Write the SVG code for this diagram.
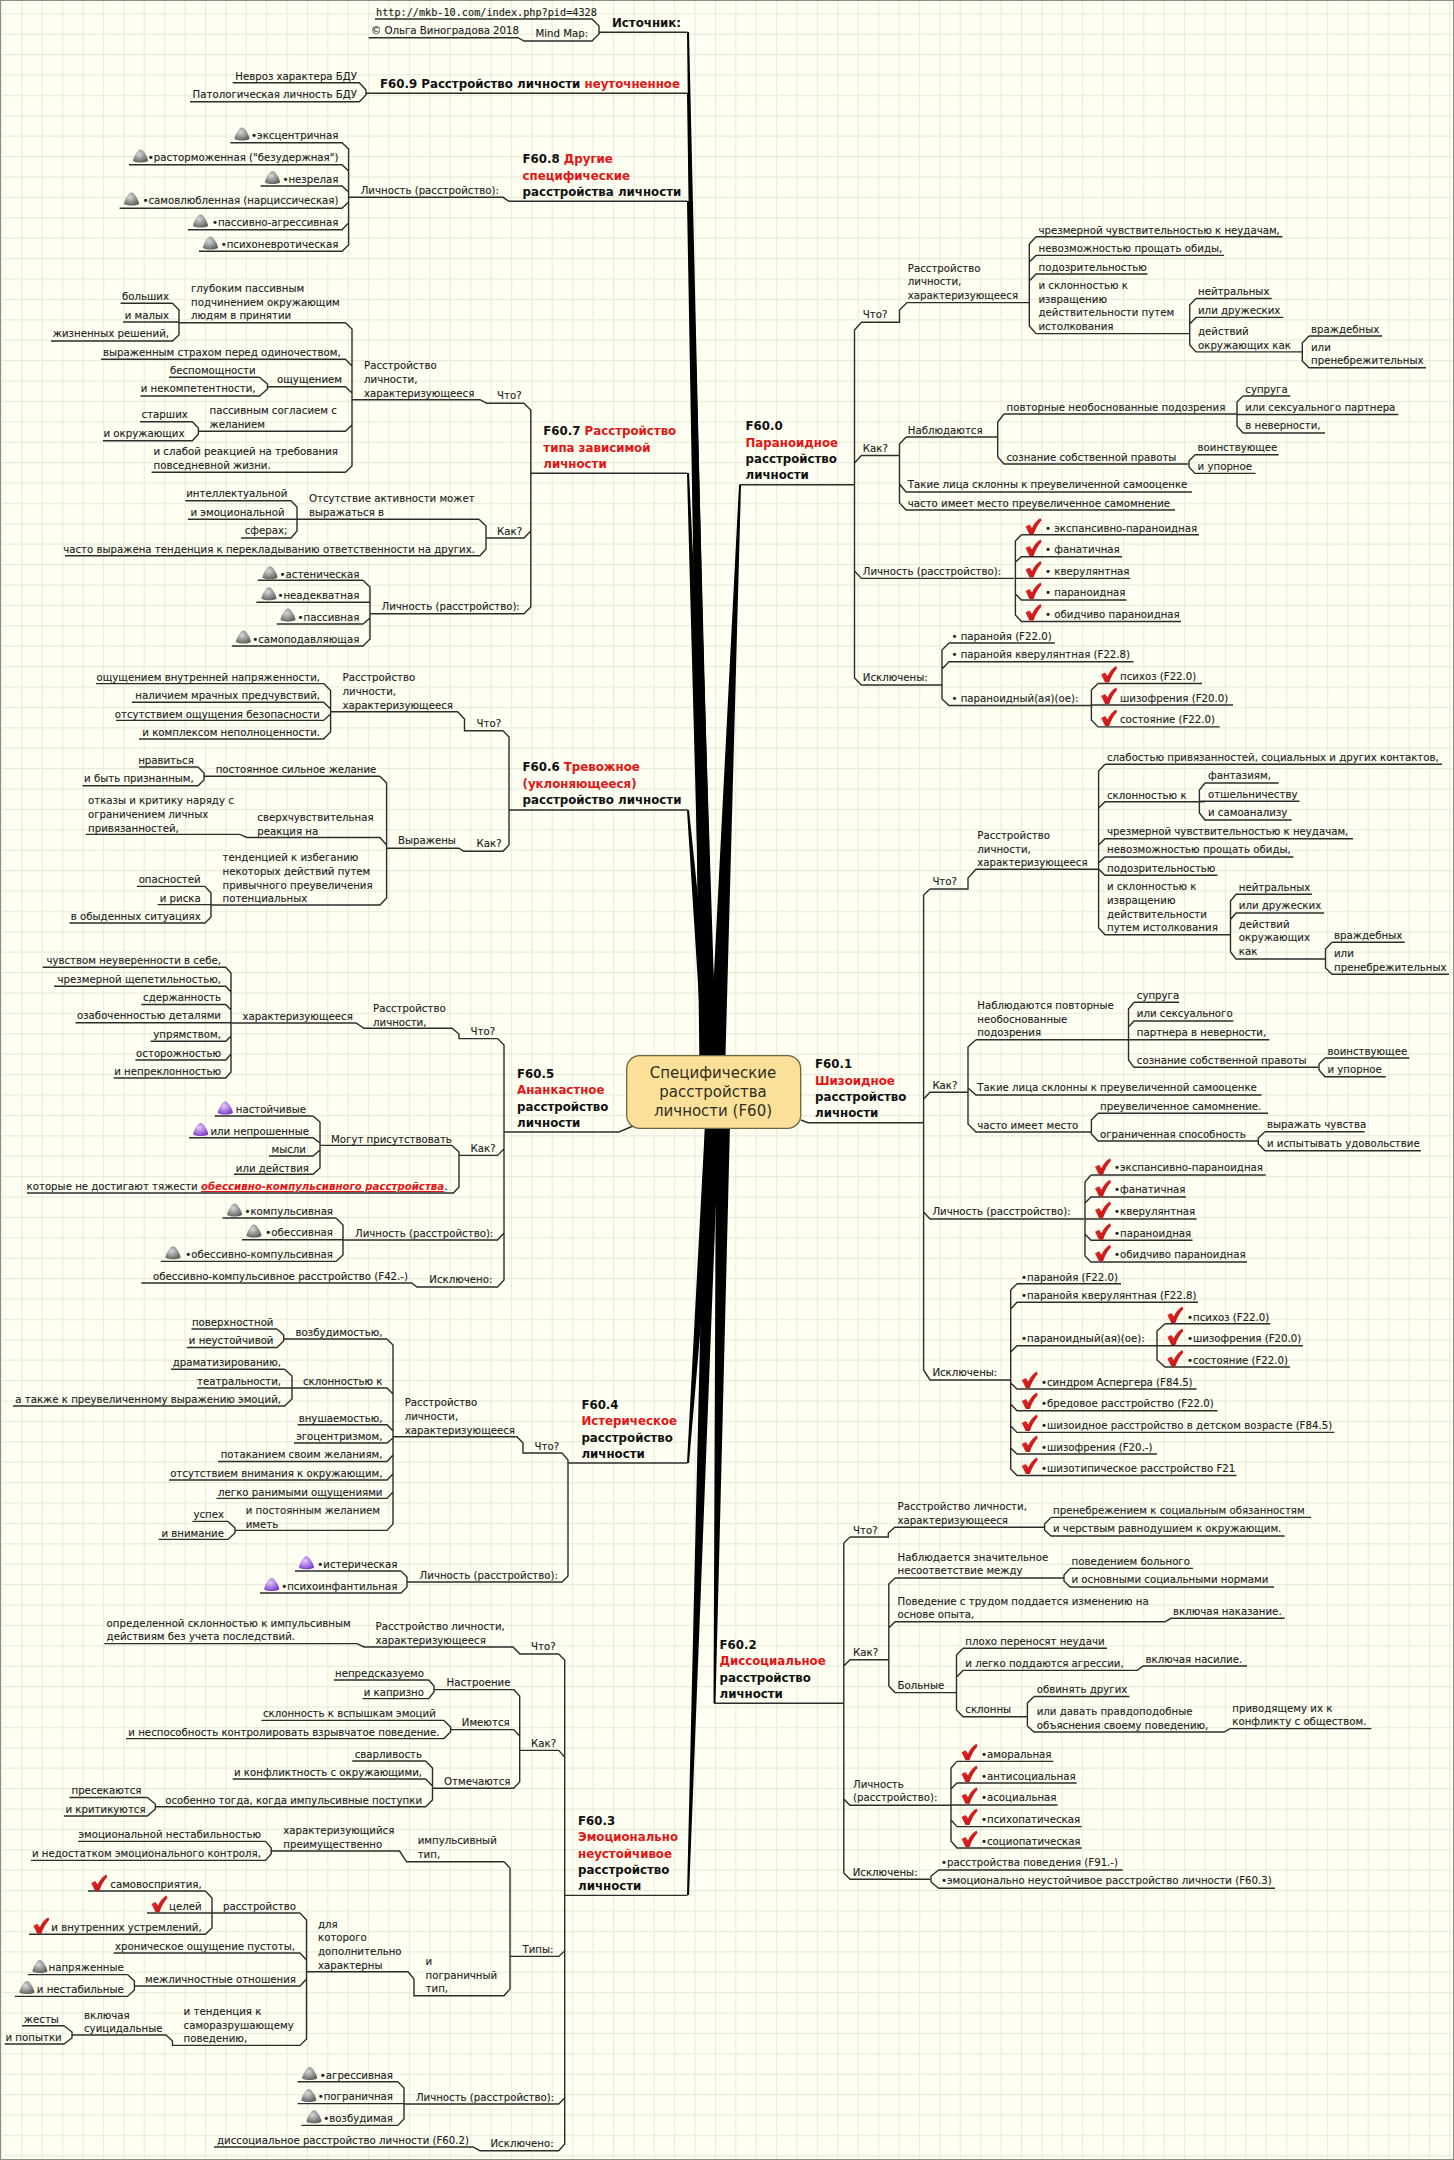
<svg xmlns="http://www.w3.org/2000/svg" width="1454" height="2160" viewBox="0 0 1454 2160">
<style>
text{font-family:"DejaVu Sans",sans-serif;font-size:10.2px;fill:#1c1c1c;stroke:#1c1c1c;stroke-width:.12}
.e{text-anchor:end}
.t{font-weight:bold;font-size:11.8px;fill:#111;stroke:none}
.r{fill:#e41414;stroke:none}
.c{font-size:15px;text-anchor:middle;fill:#2e2e22;stroke:none}
.m{font-family:"DejaVu Sans Mono",monospace}
.i{font-weight:bold;font-style:italic;text-decoration:underline}
#connectors path{fill:none;stroke:#2c2c2c;stroke-width:1.4}
#connectors polygon{fill:#000;stroke:none}
</style>
<defs>
<pattern id="grid" x="0.9" y="13.2" width="20.4" height="20.4" patternUnits="userSpaceOnUse"><rect width="20.4" height="20.4" fill="#fffff2"/><path d="M0,0H20.4M0,0V20.4" stroke="#e8ebdd" stroke-width="2.2" fill="none"/></pattern>
<radialGradient id="gg" cx=".4" cy=".35" r=".75"><stop offset="0" stop-color="#d8d8d8"/><stop offset="1" stop-color="#555"/></radialGradient>
<radialGradient id="gp" cx=".4" cy=".35" r=".75"><stop offset="0" stop-color="#e6c8ff"/><stop offset="1" stop-color="#7430c4"/></radialGradient>
<linearGradient id="gr" x1="0" y1="0" x2="1" y2="1"><stop offset="0" stop-color="#f03030"/><stop offset="1" stop-color="#b80c0c"/></linearGradient>
<path id="cone" d="M-7.5,5C-7.5,1.5-3,-6.5 0,-6.5C3,-6.5 7.5,1.5 7.5,5C3,7-3,7-7.5,5Z" fill="url(#gg)"/>
<path id="pur" d="M-7.5,5C-7.5,1.5-3,-6.5 0,-6.5C3,-6.5 7.5,1.5 7.5,5C3,7-3,7-7.5,5Z" fill="url(#gp)"/>
<path id="chk" d="M-7.5,0L-3.5,-2L-1,1.5C1,-3 4,-6.5 7.5,-8.5L8.5,-6C5,-2.5 2.5,2.5 0.5,8L-3.5,8Z" fill="url(#gr)"/>
</defs>
<rect width="1454" height="2160" fill="url(#grid)"/>
<rect x=".5" y=".5" width="1453" height="2159" fill="none" stroke="#8c8c8c"/>
<g id="connectors">
<polygon points="687,32 689,32 714,1110 700,1110"/>
<polygon points="687,93 689,93 716,1110 702,1110"/>
<polygon points="687,201 689,201 718,1110 703,1110"/>
<polygon points="687,473 689,473 720,1110 704,1110"/>
<polygon points="687,810 689,810 720,1110 706,1110"/>
<polygon points="687,1463 689,1463 718,1125 705,1125"/>
<polygon points="687,1895 689,1895 719,1125 705,1125"/>
<polygon points="739,485 741,485 724,1110 707,1110"/>
<polygon points="713.5,1703 715.5,1703 730,1125 716,1125"/>
<path d="M375,19H592L599,26V34L592,41H533M368.5,37.7H518L524,41H533M599,32.3H687.5"/>
<path d="M232.7,82.7H359.3L366,90V95L359.3,101.7H190M366,93.3H687.5"/>
<path d="M509,201.3H687.5M509,201.3L503,197.3H348.6M230.4,142.7H342L348.6,149V245L342,251.3H199M129,164.7H342L348.6,171M260.5,186H342L348.6,192M119.6,208.3H342L348.6,202M187.8,229.7H342L348.6,223"/>
<path d="M530.8,473.3H687.5M524,403.3L530.8,410V607L524,613.7H370M524,403.3H486.8L480,399.7H352.3M345.4,322.7L352,329V466L345.4,472.3H151.6M345.4,322.7H178.5M172.5,303.3L179,310V335L172.5,341H51M172.5,303.3H120.5M179,322H123M101,359.3H345.4L352,366M352,393L345.4,386.7H267.5M259.6,377.3L267.5,384V389L259.6,396H140.5M259.6,377.3H169M352,425L345.4,431.3H198.4M192.4,421.7L198.4,428V434L192.4,440.7H103M192.4,421.7H140"/>
<path d="M530.8,531L524,538H486M479,519.3L486,526V549L480,555.8H65M479,519.3H296.7M291,500.7L297,507V531L291,538H241M291,500.7H185.4M297,519.3H187.8M363,580.3L370,587V639L363,646H231.8M363,580.3H257.8M370,602.3H256.4M370,618L363,624H276.8"/>
<path d="M509,810H687.5M503,730.7L509,737V845L503,851.3H463.6L459,848.2H386.6M503,730.7H464.5V719L457.6,711.8H330.6M323.6,683.6L330.6,690.5V732L323.6,739H139M323.6,683.6H96M132,702.2H323.6L330.6,709M116,720.4H323.6L330.6,714M380,776.2L386.6,783V898L380,905H211M380,776.2H204M198,767L204,773V780L198,785.8H82.5M198,767H139M386.6,845L380,837.5H247L239.7,834.4H85.8M205,886.4L211,893V917L205,923H69.5M205,886.4H136.8M211,904.6H157.6"/>
<path d="M504,1132H619L633,1126M497.5,1038.6L504,1045V1280L497.5,1287H417L411.7,1283H141.4M497.5,1038.6H459V1034L452,1028.3H364L356,1023H231M225.8,967.3L231,973V1072L225.8,1078H113.6M225.8,967.3H42.6M54,986.2H225.8L231,992M141.4,1004.5H225.8L231,1010M75.6,1022.8H231M150.7,1041.3H225.8L231,1036M135.4,1060H225.8L231,1054M504,1149L497.5,1155.4H459M452,1145.4L459,1152V1187L453.4,1193H27M452,1145.4H320M313,1116L320,1122V1168L313,1174.3H234M313,1116H214.6M189,1137.8H313L320,1143M269,1156H313L320,1150M504,1233L497.5,1240H343M336,1218L343,1225V1255L336,1261.4H161M336,1218H222.5M343,1239.8H242"/>
<path d="M568,1463H687.5M562,1453L568,1460V1576L562,1582H407M562,1453H523V1443L517,1436.7H393M387,1339L393,1345V1524L387,1530.4H235M387,1339H283.7M277,1329L283.7,1335V1341L277,1347.5H186.8M277,1329H191.5M393,1394L387,1388H292M284.6,1369.2L292,1376V1399L284.6,1406H13M284.6,1369.2H171M292,1388H197M393,1431L387,1424.7H297.6M393,1438L387,1443H294M393,1455L387,1461.5H218M393,1474L387,1480H169M393,1492L387,1498.4H216.5M228,1521.4L235,1528V1533L228,1539.4H158.6M228,1521.4H192.4M401,1571L407,1577V1587L401,1593H260M401,1571H295"/>
<path d="M564.7,1895.4H687.5M558.7,1654L564.7,1660V2144L558.7,2150.7H480L473,2147H214M104.3,1643.6H357L364,1647H513L520,1654H558.7M564.7,1757L558.7,1750.4H519.7M513.7,1689.6L519.7,1696V1782L513.7,1788.2H432.5M513.7,1689.6H434M428.8,1680L434,1686V1692L428.8,1698.6H362.5M428.8,1680H333.8M519.7,1736L513.7,1729.6H450.6M444,1720.4L450.6,1727V1732L444,1738.6H126M444,1720.4H261.5M425.6,1761L432.5,1768V1800L425.6,1806.8H155.3M425.6,1761H352.3M432.5,1786L425.6,1779H232.7M147.4,1797.5L155.3,1804V1809L147.4,1816H64M147.4,1797.5H69.5M564.7,1951L558.7,1956.4H510M504,1861.8L510,1868V1989L504,1995.7H414V1979L408,1971.8H306.5M504,1861.8H406.6L399.6,1851H271.2M265.6,1841.4L271.2,1848V1854L265.6,1860.4H31M265.6,1841.4H77.9M300,1913L306.5,1920V2039L300,2045.4H172.5V2041L166,2035H72M300,1913H212M205.4,1891L212,1898V1928L205.4,1934.3H29M205.4,1891H88M212,1913H147M306.5,1960L300,1953H113.6M306.5,1979L300,1986H134.4M127.5,1974.6L134.4,1981V1990L127.5,1996.4H14.8M127.5,1974.6H27.8M64,2025.7L72,2032V2038L64,2044H4.6M64,2025.7H22M564.7,2098L558.7,2104H404M397.8,2081.8L404,2088V2119L397.8,2125.4H301.4M397.8,2081.8H297.6M404,2103.6H297.6"/>
<path d="M739.5,484.8H854.5M861.4,322.2L854.5,330V678L861.4,685H941.7M861.4,322.2H899.5V310L907,302.6H1029.3M1036,236.8H1282.4M1036,236.8L1029.3,244V326L1036,333.6H1189M1029.3,262L1036,255.4H1224M1029.3,281L1036,274H1147.5M1196,298.5H1271.7M1196,298.5L1189.7,305V345L1196,351.9H1302M1189.7,324L1196,317.4H1283.3M1309,336H1382M1309,336L1302.3,343V361L1309,367.7H1426M854.5,463L861.4,455.5H899.5M906,437L899.5,444V503L906,510H1175M899.5,484L906,492H1192M906,437H997.7M1004,414L997.7,422V457L1004,464H1188M1004,414H1237M1243,396L1237,402V426L1243,433H1325M1237,414.5H1398.3M1243,396H1290.3M1195,454.8L1189,461V467L1195,473.4H1255.5M1195,454.8H1278.7M854.5,571L861.4,578.4H1014.4M1021.4,534.7L1015.4,541V615L1021.4,621.5H1181M1021.4,534.7H1199M1015.4,562L1021.4,556.7H1122M1015.4,578.4H1130.3M1015.4,594L1021.4,600H1126.6M949,643L942,650V699L949,705.5H1091M942,669L949,661.8H1133.6M949,643H1054.8M1098,683.5L1091.4,690V720L1098,726.9H1219.8M1098,683.5H1202M1091.4,705H1233"/>
<path d="M800.7,1120L808,1122.7H923.6M930,889L923.6,895V1370L930,1380H1010M930,889H968V878L976,869.3H1098.6M1105,764.3L1098.6,771V928L1105,934.7H1230.5M1105,764.3H1442M1098.6,808L1105,801.7H1204.5M1098.6,845L1105,838.7H1353M1098.6,863L1105,857H1293.5M1098.6,869L1105,875.3H1217.5M1205,783L1199.4,790V813L1205,820H1291.7M1205,783H1278.7M1199.4,801.3H1299.5M1236,894.3L1230.5,901V952L1236,959H1325.5M1236,894.3H1312M1230.5,919.5L1236,913H1324M1332,942.3L1325.5,949V968L1332,974.3H1449M1332,942.3H1404.8M923.6,1099L930,1092.3H968M976,1039.7L968,1047V1124L976,1132H1091M968,1088L976,1095H1261.5M976,1039.7H1269.4M1134,1002.3L1128.5,1009V1060L1134,1067.3H1318M1134,1002.3H1179M1128.5,1027L1134,1021H1233.3M1325,1058L1319,1064V1070L1325,1076.7H1385.8M1325,1058H1409.4M1098,1113.3L1091.4,1120V1134L1098,1141H1257.8M1098,1113.3H1268M1265,1131.7L1258.3,1138V1144L1265,1150.7H1421M1265,1131.7H1364.5M923.6,1212L930,1219H1084M1091,1175L1085,1182V1256L1091,1262H1247M1091,1175H1265.7M1085,1203L1091,1197H1186M1085,1219H1196.6M1085,1234L1091,1240.3H1192.5M1017,1283.7L1010.7,1290V1469L1017,1475.5H1236.5M1017,1283.7H1121M1010.7,1309L1017,1302.3H1198M1010.7,1352L1017,1345.8H1157M1165,1323.7L1157,1331V1360L1165,1367H1290M1165,1323.7H1270.3M1157,1345.8H1303M1010.7,1383L1017,1389H1196.6M1010.7,1404L1017,1410.7H1217.5M1010.7,1426L1017,1432.4H1334.3M1010.7,1448L1017,1454H1157"/>
<path d="M714,1703.3H843.8M850,1537L843.8,1543V1873L850,1879.3H930M850,1537H888.3V1533L894.8,1527.3H1044.6M1051,1517.4L1044.6,1524V1530L1051,1536H1284.7M1051,1517.4H1311M843.8,1666L850,1659.8H888.8M895,1578L888.8,1584V1686L895,1692.6H956.5M895,1578H1064M1070,1568.4L1064,1575V1581L1070,1587H1274M1070,1568.4H1193M888.8,1628L895,1621.8H1165L1171,1618.3H1284.7M963,1648.3L956.5,1655V1710L963,1716.7H1027.4M963,1648.3H1107M956.5,1677L963,1670.4H1137.3L1143,1666H1247M1034,1696.5L1027.4,1703V1726L1034,1732H1224L1230,1728.6H1371.4M1034,1696.5H1129.4M843.8,1799L850,1805.3H951M957,1761.4L951,1768V1841L957,1848H1081.7M957,1761.4H1053.4M951,1789L957,1783H1076.6M951,1805H1057.5M951,1820L957,1826.6H1081.7M938.7,1870L931,1876V1882L938.7,1888.3H1275M938.7,1870H1122.7"/>
</g>
<g id="center"><rect x="626.7" y="1055.7" width="174" height="72.6" rx="13" fill="#fbe09a" stroke="#6e6440" stroke-width="1.3"/><text class="c" x="713" y="1078">Специфические</text><text class="c" x="713" y="1097">расстройства</text><text class="c" x="713" y="1115.7">личности (F60)</text></g>
<g id="src"><text class="t" x="612" y="26.7">Источник:</text></g>
<g id="src1"><text class="m" x="376" y="15.7">http://mkb-10.com/index.php?pid=4328</text></g>
<g id="src2"><text x="535.5" y="37.3">Mind Map:</text></g>
<g id="src3"><text x="371" y="34">© Ольга Виноградова 2018</text></g>
<g id="f609"><text class="t" x="380" y="87.5">F60.9 Расстройство личности <tspan class="r">неуточненное</tspan></text></g>
<g id="f609a"><text class="e" x="357" y="80">Невроз характера БДУ</text></g>
<g id="f609b"><text class="e" x="357" y="98">Патологическая личность БДУ</text></g>
<g id="f608"><text class="t" x="522.5" y="163">F60.8 <tspan class="r">Другие</tspan></text><text class="t r" x="522.5" y="179.5">специфические</text><text class="t" x="522.5" y="196">расстройства личности</text></g>
<g id="f608l"><text x="360.7" y="194">Личность (расстройство):</text></g>
<g id="f608a"><use href="#cone" x="242" y="134"/><text class="e" x="338.4" y="139.3">•эксцентричная</text></g>
<g id="f608b"><use href="#cone" x="140.5" y="156"/><text class="e" x="338.4" y="161">•расторможенная ("безудержная")</text></g>
<g id="f608c"><use href="#cone" x="272.5" y="177.5"/><text class="e" x="338.4" y="182.7">•незрелая</text></g>
<g id="f608d"><use href="#cone" x="131.5" y="199"/><text class="e" x="338.4" y="204.3">•самовлюбленная (нарциссическая)</text></g>
<g id="f608e"><use href="#cone" x="200.5" y="221"/><text class="e" x="338.4" y="226">•пассивно-агрессивная</text></g>
<g id="f608f"><use href="#cone" x="210.5" y="243"/><text class="e" x="338.4" y="248">•психоневротическая</text></g>
<g id="f607"><text class="t" x="543.3" y="435">F60.7 <tspan class="r">Расстройство</tspan></text><text class="t r" x="543.3" y="451.7">типа зависимой</text><text class="t r" x="543.3" y="467.7">личности</text></g>
<g id="f607q"><text x="497" y="399.3">Что?</text></g>
<g id="f607r"><text x="364" y="369.3">Расстройство</text><text x="364" y="383">личности,</text><text x="364" y="396.7">характеризующееся</text></g>
<g id="f607a"><text x="191" y="292">глубоким пассивным</text><text x="191" y="305.7">подчинением окружающим</text><text x="191" y="319.3">людям в принятии</text></g>
<g id="f607a1"><text class="e" x="169" y="300">больших</text></g>
<g id="f607a2"><text class="e" x="169" y="319">и малых</text></g>
<g id="f607a3"><text class="e" x="169" y="337.3">жизненных решений,</text></g>
<g id="f607b"><text class="e" x="340.7" y="355.7">выраженным страхом перед одиночеством,</text></g>
<g id="f607c"><text class="e" x="342" y="383.3">ощущением</text></g>
<g id="f607c1"><text class="e" x="255.5" y="374">беспомощности</text></g>
<g id="f607c2"><text class="e" x="255.5" y="392.3">и некомпетентности,</text></g>
<g id="f607d"><text x="209.5" y="414.3">пассивным согласием с</text><text x="209.5" y="428">желанием</text></g>
<g id="f607d1"><text class="e" x="187.8" y="418.3">старших</text></g>
<g id="f607d2"><text class="e" x="184.5" y="437">и окружающих</text></g>
<g id="f607e"><text x="153.5" y="455.3">и слабой реакцией на требования</text><text x="153.5" y="469">повседневной жизни.</text></g>
<g id="f607k"><text x="497" y="534.8">Как?</text></g>
<g id="f607k0"><text x="309" y="502.3">Отсутствие активности может</text><text x="309" y="516">выражаться в</text></g>
<g id="f607k1"><text class="e" x="287.4" y="497.3">интеллектуальной</text></g>
<g id="f607k2"><text class="e" x="284.6" y="516">и эмоциональной</text></g>
<g id="f607k3"><text class="e" x="287.4" y="533.8">сферах;</text></g>
<g id="f607k4"><text class="e" x="475" y="552.7">часто выражена тенденция к перекладыванию ответственности на других.</text></g>
<g id="f607l"><text x="381.5" y="610">Личность (расстройство):</text></g>
<g id="f607l1"><use href="#cone" x="270" y="572.7"/><text class="e" x="359.3" y="577.5">•астеническая</text></g>
<g id="f607l2"><use href="#cone" x="269" y="593.7"/><text class="e" x="359.3" y="598.9">•неадекватная</text></g>
<g id="f607l3"><use href="#cone" x="288" y="615"/><text class="e" x="359.3" y="621">•пассивная</text></g>
<g id="f607l4"><use href="#cone" x="243.4" y="637"/><text class="e" x="359.3" y="642.6">•самоподавляющая</text></g>
<g id="f606"><text class="t" x="522.5" y="771.4">F60.6 <tspan class="r">Тревожное</tspan></text><text class="t r" x="522.5" y="787.9">(уклоняющееся)</text><text class="t" x="522.5" y="804">расстройство личности</text></g>
<g id="f606q"><text x="476.6" y="727.3">Что?</text></g>
<g id="f606k"><text x="476.6" y="847">Как?</text></g>
<g id="f606r"><text x="342.6" y="681">Расстройство</text><text x="342.6" y="695">личности,</text><text x="342.6" y="708.7">характеризующееся</text></g>
<g id="f606a"><text class="e" x="320" y="680.5">ощущением внутренней напряженности,</text></g>
<g id="f606b"><text class="e" x="320" y="699">наличием мрачных предчувствий,</text></g>
<g id="f606c"><text class="e" x="320" y="717.7">отсутствием ощущения безопасности</text></g>
<g id="f606d"><text class="e" x="320" y="736">и комплексом неполноценности.</text></g>
<g id="f606v"><text x="398" y="844.4">Выражены</text></g>
<g id="f606e"><text class="e" x="376.4" y="773">постоянное сильное желание</text></g>
<g id="f606e1"><text class="e" x="193.8" y="763.5">нравиться</text></g>
<g id="f606e2"><text class="e" x="193.8" y="782.4">и быть признанным,</text></g>
<g id="f606f"><text x="257.3" y="821.3">сверхчувствительная</text><text x="257.3" y="835">реакция на</text></g>
<g id="f606f1"><text x="88" y="804">отказы и критику наряду с</text><text x="88" y="817.9">ограничением личных</text><text x="88" y="831.6">привязанностей,</text></g>
<g id="f606g"><text x="222.5" y="861">тенденцией к избеганию</text><text x="222.5" y="874.7">некоторых действий путем</text><text x="222.5" y="888.5">привычного преувеличения</text><text x="222.5" y="902.2">потенциальных</text></g>
<g id="f606g1"><text class="e" x="200.7" y="883.3">опасностей</text></g>
<g id="f606g2"><text class="e" x="200.7" y="901.5">и риска</text></g>
<g id="f606g3"><text class="e" x="200.7" y="920">в обыденных ситуациях</text></g>
<g id="f605"><text class="t" x="517" y="1078">F60.5</text><text class="t r" x="517" y="1094.4">Ананкастное</text><text class="t" x="517" y="1111">расстройство</text><text class="t" x="517" y="1127">личности</text></g>
<g id="f605q"><text x="470.6" y="1034.8">Что?</text></g>
<g id="f605r"><text x="373" y="1011.7">Расстройство</text><text x="373" y="1025.5">личности,</text></g>
<g id="f605h"><text x="242.5" y="1020">характеризующееся</text></g>
<g id="f605a"><text class="e" x="221" y="964">чувством неуверенности в себе,</text></g>
<g id="f605b"><text class="e" x="221" y="982.5">чрезмерной щепетильностью,</text></g>
<g id="f605c"><text class="e" x="221" y="1001">сдержанность</text></g>
<g id="f605d"><text class="e" x="221" y="1019.3">озабоченностью деталями</text></g>
<g id="f605e"><text class="e" x="221" y="1038">упрямством,</text></g>
<g id="f605f"><text class="e" x="221" y="1056.5">осторожностью</text></g>
<g id="f605g"><text class="e" x="221" y="1075">и непреклонностью</text></g>
<g id="f605k"><text x="470.6" y="1152.3">Как?</text></g>
<g id="f605m"><text x="331" y="1142.6">Могут присутствовать</text></g>
<g id="f605m1"><use href="#pur" x="225.3" y="1108"/><text class="e" x="306" y="1112.7">настойчивые</text></g>
<g id="f605m2"><use href="#pur" x="200.7" y="1129.5"/><text class="e" x="309" y="1134.7">или непрошенные</text></g>
<g id="f605m3"><text class="e" x="306" y="1153">мысли</text></g>
<g id="f605m4"><text class="e" x="309" y="1171.6">или действия</text></g>
<g id="f605n"><text class="e" x="447.4" y="1190">которые не достигают тяжести <tspan class="r i">обессивно-компульсивного расстройства</tspan>.</text></g>
<g id="f605l"><text x="355" y="1236.7">Личность (расстройство):</text></g>
<g id="f605l1"><use href="#cone" x="234.6" y="1210"/><text class="e" x="333" y="1215">•компульсивная</text></g>
<g id="f605l2"><use href="#cone" x="254" y="1231"/><text class="e" x="333" y="1236.3">•обессивная</text></g>
<g id="f605l3"><use href="#cone" x="173" y="1252.8"/><text class="e" x="333" y="1258">•обессивно-компульсивная</text></g>
<g id="f605x"><text x="429.3" y="1283">Исключено:</text></g>
<g id="f605x1"><text class="e" x="408" y="1279.7">обессивно-компульсивное расстройство (F42.-)</text></g>
<g id="f604"><text class="t" x="581.4" y="1408.8">F60.4</text><text class="t r" x="581.4" y="1425">Истерическое</text><text class="t" x="581.4" y="1441.5">расстройство</text><text class="t" x="581.4" y="1457.7">личности</text></g>
<g id="f604q"><text x="534.5" y="1449.8">Что?</text></g>
<g id="f604r"><text x="404.7" y="1406">Расстройство</text><text x="404.7" y="1420">личности,</text><text x="404.7" y="1433.6">характеризующееся</text></g>
<g id="f604a"><text class="e" x="382.5" y="1335.5">возбудимостью,</text></g>
<g id="f604a1"><text class="e" x="273.5" y="1325.8">поверхностной</text></g>
<g id="f604a2"><text class="e" x="273.5" y="1344.4">и неустойчивой</text></g>
<g id="f604b"><text class="e" x="382.5" y="1384.7">склонностью к</text></g>
<g id="f604b1"><text class="e" x="281" y="1366">драматизированию,</text></g>
<g id="f604b2"><text class="e" x="281" y="1384.7">театральности,</text></g>
<g id="f604b3"><text class="e" x="281" y="1403">а также к преувеличенному выражению эмоций,</text></g>
<g id="f604c"><text class="e" x="382.5" y="1421.6">внушаемостью,</text></g>
<g id="f604d"><text class="e" x="382.5" y="1439.8">эгоцентризмом,</text></g>
<g id="f604e"><text class="e" x="382.5" y="1458.4">потаканием своим желаниям,</text></g>
<g id="f604f"><text class="e" x="382.5" y="1477">отсутствием внимания к окружающим,</text></g>
<g id="f604g"><text class="e" x="382.5" y="1495.6">легко ранимыми ощущениями</text></g>
<g id="f604h"><text x="245.7" y="1514">и постоянным желанием</text><text x="245.7" y="1527.6">иметь</text></g>
<g id="f604h1"><text class="e" x="224" y="1518">успех</text></g>
<g id="f604h2"><text class="e" x="224" y="1536.6">и внимание</text></g>
<g id="f604l"><text x="419.6" y="1579">Личность (расстройство):</text></g>
<g id="f604l1"><use href="#pur" x="306.5" y="1562.8"/><text class="e" x="397.3" y="1568">•истерическая</text></g>
<g id="f604l2"><use href="#pur" x="271.7" y="1584.4"/><text class="e" x="397.3" y="1589.6">•психоинфантильная</text></g>
<g id="f603"><text class="t" x="578" y="1825">F60.3</text><text class="t r" x="578" y="1841.4">Эмоционально</text><text class="t r" x="578" y="1857.9">неустойчивое</text><text class="t" x="578" y="1874.3">расстройство</text><text class="t" x="578" y="1890">личности</text></g>
<g id="f603q"><text x="531" y="1650">Что?</text></g>
<g id="f603r"><text x="375.5" y="1630.4">Расстройство личности,</text><text x="375.5" y="1644">характеризующееся</text></g>
<g id="f603r1"><text x="106.6" y="1626.8">определенной склонностью к импульсивным</text><text x="106.6" y="1640.4">действиям без учета последствий.</text></g>
<g id="f603k"><text x="531" y="1747">Как?</text></g>
<g id="f603a"><text x="446.5" y="1686.4">Настроение</text></g>
<g id="f603a1"><text class="e" x="424" y="1677">непредсказуемо</text></g>
<g id="f603a2"><text class="e" x="424" y="1695.7">и капризно</text></g>
<g id="f603b"><text x="461.8" y="1726.4">Имеются</text></g>
<g id="f603b1"><text class="e" x="435.8" y="1717">склонность к вспышкам эмоций</text></g>
<g id="f603b2"><text class="e" x="439.5" y="1735.7">и неспособность контролировать взрывчатое поведение.</text></g>
<g id="f603c"><text x="444" y="1785">Отмечаются</text></g>
<g id="f603c1"><text class="e" x="422" y="1757.9">сварливость</text></g>
<g id="f603c2"><text class="e" x="422" y="1776">и конфликтность с окружающими,</text></g>
<g id="f603c3"><text class="e" x="422" y="1803.6">особенно тогда, когда импульсивные поступки</text></g>
<g id="f603c4"><text class="e" x="141.4" y="1794.3">пресекаются</text></g>
<g id="f603c5"><text class="e" x="145.6" y="1812.9">и критикуются</text></g>
<g id="f603t"><text x="522.5" y="1952.9">Типы:</text></g>
<g id="f603t1"><text x="417.7" y="1844.3">импульсивный</text><text x="417.7" y="1857.9">тип,</text></g>
<g id="f603t2"><text x="283.3" y="1834">характеризующийся</text><text x="283.3" y="1847.5">преимущественно</text></g>
<g id="f603t3"><text class="e" x="261" y="1838">эмоциональной нестабильностью</text></g>
<g id="f603t4"><text class="e" x="261" y="1857">и недостатком эмоционального контроля,</text></g>
<g id="f603u"><text x="425.6" y="1965">и</text><text x="425.6" y="1978.6">пограничный</text><text x="425.6" y="1992">тип,</text></g>
<g id="f603u1"><text x="318" y="1927.5">для</text><text x="318" y="1941">которого</text><text x="318" y="1954.6">дополнительно</text><text x="318" y="1968.6">характерны</text></g>
<g id="f603v"><text class="e" x="296" y="1910">расстройство</text></g>
<g id="f603v1"><use href="#chk" x="98.7" y="1882.9"/><text class="e" x="201.7" y="1887.9">самовосприятия,</text></g>
<g id="f603v2"><use href="#chk" x="159" y="1904"/><text class="e" x="201.7" y="1909.6">целей</text></g>
<g id="f603v3"><use href="#chk" x="40.8" y="1925.7"/><text class="e" x="201.7" y="1931.4">и внутренних устремлений,</text></g>
<g id="f603w"><text class="e" x="295" y="1950">хроническое ощущение пустоты,</text></g>
<g id="f603w1"><text class="e" x="296" y="1982.9">межличностные отношения</text></g>
<g id="f603w2"><use href="#cone" x="39.9" y="1966.4"/><text class="e" x="123.8" y="1971.4">напряженные</text></g>
<g id="f603w3"><use href="#cone" x="26.9" y="1987.5"/><text class="e" x="123.8" y="1992.9">и нестабильные</text></g>
<g id="f603y"><text x="183.6" y="2015">и тенденция к</text><text x="183.6" y="2028.6">саморазрушающему</text><text x="183.6" y="2042">поведению,</text></g>
<g id="f603y1"><text x="84" y="2018.6">включая</text><text x="84" y="2032">суицидальные</text></g>
<g id="f603y2"><text class="e" x="58.9" y="2022.5">жесты</text></g>
<g id="f603y3"><text class="e" x="61.7" y="2041">и попытки</text></g>
<g id="f603l"><text x="415.9" y="2100.7">Личность (расстройство):</text></g>
<g id="f603l1"><use href="#cone" x="309.7" y="2073.6"/><text class="e" x="393" y="2078.6">•агрессивная</text></g>
<g id="f603l2"><use href="#cone" x="308.8" y="2095.4"/><text class="e" x="393" y="2100">•пограничная</text></g>
<g id="f603l3"><use href="#cone" x="314" y="2116.8"/><text class="e" x="393" y="2122">•возбудимая</text></g>
<g id="f603x"><text x="490.5" y="2147">Исключено:</text></g>
<g id="f603x1"><text class="e" x="469" y="2144">диссоциальное расстройство личности (F60.2)</text></g>
<g id="f600"><text class="t" x="745.5" y="430">F60.0</text><text class="t r" x="745.5" y="446.6">Параноидное</text><text class="t" x="745.5" y="462.7">расстройство</text><text class="t" x="745.5" y="479">личности</text></g>
<g id="f600q"><text x="862.8" y="318">Что?</text></g>
<g id="f600r"><text x="907.8" y="271.6">Расстройство</text><text x="907.8" y="285.4">личности,</text><text x="907.8" y="299.2">характеризующееся</text></g>
<g id="f600a"><text x="1038.5" y="233.7">чрезмерной чувствительностью к неудачам,</text></g>
<g id="f600b"><text x="1038.5" y="252.3">невозможностью прощать обиды,</text></g>
<g id="f600c"><text x="1038.5" y="270.6">подозрительностью</text></g>
<g id="f600d"><text x="1038.5" y="288.8">и склонностью к</text><text x="1038.5" y="302.6">извращению</text><text x="1038.5" y="316.4">действительности путем</text><text x="1038.5" y="330">истолкования</text></g>
<g id="f600d1"><text x="1198" y="295.4">нейтральных</text></g>
<g id="f600d2"><text x="1198" y="314">или дружеских</text></g>
<g id="f600d3"><text x="1198" y="335">действий</text><text x="1198" y="348.8">окружающих как</text></g>
<g id="f600d4"><text x="1311" y="332.6">враждебных</text></g>
<g id="f600d5"><text x="1311" y="350.5">или</text><text x="1311" y="364.3">пренебрежительных</text></g>
<g id="f600k"><text x="862.8" y="452">Как?</text></g>
<g id="f600n"><text x="907.8" y="433.5">Наблюдаются</text></g>
<g id="f600n1"><text x="1006.5" y="411">повторные необоснованные подозрения</text></g>
<g id="f600n2"><text x="1245.3" y="392.8">супруга</text></g>
<g id="f600n3"><text x="1245.3" y="410.7">или сексуального партнера</text></g>
<g id="f600n4"><text x="1245.3" y="429.3">в неверности,</text></g>
<g id="f600n5"><text x="1006.5" y="460.7">сознание собственной правоты</text></g>
<g id="f600n6"><text x="1197.6" y="451.4">воинствующее</text></g>
<g id="f600n7"><text x="1197.6" y="469.6">и упорное</text></g>
<g id="f600o"><text x="907.8" y="487.9">Такие лица склонны к преувеличенной самооценке</text></g>
<g id="f600p"><text x="907.8" y="506.5">часто имеет место преувеличенное самомнение</text></g>
<g id="f600l"><text x="862.8" y="574.7">Личность (расстройство):</text></g>
<g id="f600l1"><use href="#chk" x="1033" y="526.4"/><text x="1045" y="531.6">• экспансивно-параноидная</text></g>
<g id="f600l2"><use href="#chk" x="1033" y="548"/><text x="1045" y="553">• фанатичная</text></g>
<g id="f600l3"><use href="#chk" x="1033" y="569.5"/><text x="1045" y="574.7">• кверулянтная</text></g>
<g id="f600l4"><use href="#chk" x="1033" y="591"/><text x="1045" y="596.4">• параноидная</text></g>
<g id="f600l5"><use href="#chk" x="1033" y="612.5"/><text x="1045" y="618">• обидчиво параноидная</text></g>
<g id="f600x"><text x="862.8" y="681.4">Исключены:</text></g>
<g id="f600x1"><text x="951.4" y="639.7">• паранойя (F22.0)</text></g>
<g id="f600x2"><text x="951.4" y="658.3">• паранойя кверулянтная (F22.8)</text></g>
<g id="f600x3"><text x="951.4" y="702">• параноидный(ая)(ое):</text></g>
<g id="f600x4"><use href="#chk" x="1108.6" y="674.5"/><text x="1120" y="680">психоз (F22.0)</text></g>
<g id="f600x5"><use href="#chk" x="1108.6" y="696"/><text x="1120" y="701.7">шизофрения (F20.0)</text></g>
<g id="f600x6"><use href="#chk" x="1108.6" y="718"/><text x="1120" y="723.4">состояние (F22.0)</text></g>
<g id="f601"><text class="t" x="815" y="1068.3">F60.1</text><text class="t r" x="815" y="1084.7">Шизоидное</text><text class="t" x="815" y="1101">расстройство</text><text class="t" x="815" y="1117.3">личности</text></g>
<g id="f601q"><text x="932.4" y="885">Что?</text></g>
<g id="f601r"><text x="977.3" y="839">Расстройство</text><text x="977.3" y="852.7">личности,</text><text x="977.3" y="866.3">характеризующееся</text></g>
<g id="f601a"><text x="1107" y="761">слабостью привязанностей, социальных и других контактов,</text></g>
<g id="f601b"><text x="1107" y="798.7">склонностью к</text></g>
<g id="f601b1"><text x="1208" y="779.3">фантазиям,</text></g>
<g id="f601b2"><text x="1208" y="798">отшельничеству</text></g>
<g id="f601b3"><text x="1208" y="816.3">и самоанализу</text></g>
<g id="f601c"><text x="1107" y="835">чрезмерной чувствительностью к неудачам,</text></g>
<g id="f601d"><text x="1107" y="853.3">невозможностью прощать обиды,</text></g>
<g id="f601e"><text x="1107" y="872">подозрительностью</text></g>
<g id="f601f"><text x="1107" y="890.3">и склонностью к</text><text x="1107" y="904">извращению</text><text x="1107" y="917.7">действительности</text><text x="1107" y="931.3">путем истолкования</text></g>
<g id="f601f1"><text x="1238.8" y="891">нейтральных</text></g>
<g id="f601f2"><text x="1238.8" y="909.3">или дружеских</text></g>
<g id="f601f3"><text x="1238.8" y="927.7">действий</text><text x="1238.8" y="941.3">окружающих</text><text x="1238.8" y="955">как</text></g>
<g id="f601f4"><text x="1334" y="939">враждебных</text></g>
<g id="f601f5"><text x="1334" y="957.3">или</text><text x="1334" y="971">пренебрежительных</text></g>
<g id="f601k"><text x="932.4" y="1089">Как?</text></g>
<g id="f601n"><text x="977.3" y="1009">Наблюдаются повторные</text><text x="977.3" y="1022.7">необоснованные</text><text x="977.3" y="1036.3">подозрения</text></g>
<g id="f601n1"><text x="1136.8" y="999">супруга</text></g>
<g id="f601n2"><text x="1136.8" y="1017.3">или сексуального</text></g>
<g id="f601n3"><text x="1136.8" y="1036">партнера в неверности,</text></g>
<g id="f601n4"><text x="1136.8" y="1064">сознание собственной правоты</text></g>
<g id="f601n5"><text x="1327.4" y="1054.7">воинствующее</text></g>
<g id="f601n6"><text x="1327.4" y="1073">и упорное</text></g>
<g id="f601o"><text x="977.3" y="1091">Такие лица склонны к преувеличенной самооценке</text></g>
<g id="f601p"><text x="977.3" y="1128.7">часто имеет место</text></g>
<g id="f601p1"><text x="1100" y="1110">преувеличенное самомнение.</text></g>
<g id="f601p2"><text x="1100" y="1137.7">ограниченная способность</text></g>
<g id="f601p3"><text x="1267" y="1128.3">выражать чувства</text></g>
<g id="f601p4"><text x="1267" y="1146.7">и испытывать удовольствие</text></g>
<g id="f601l"><text x="932.4" y="1215">Личность (расстройство):</text></g>
<g id="f601l1"><use href="#chk" x="1102.5" y="1166.7"/><text x="1114" y="1171.3">•экспансивно-параноидная</text></g>
<g id="f601l2"><use href="#chk" x="1102.5" y="1188.3"/><text x="1114" y="1193.3">•фанатичная</text></g>
<g id="f601l3"><use href="#chk" x="1102.5" y="1210"/><text x="1114" y="1215">•кверулянтная</text></g>
<g id="f601l4"><use href="#chk" x="1102.5" y="1231.7"/><text x="1114" y="1236.7">•параноидная</text></g>
<g id="f601l5"><use href="#chk" x="1102.5" y="1253.3"/><text x="1114" y="1258.3">•обидчиво параноидная</text></g>
<g id="f601x"><text x="932.4" y="1375.9">Исключены:</text></g>
<g id="f601x1"><text x="1021" y="1280.6">•паранойя (F22.0)</text></g>
<g id="f601x2"><text x="1021" y="1298.7">•паранойя кверулянтная (F22.8)</text></g>
<g id="f601x3"><text x="1021" y="1342">•параноидный(ая)(ое):</text></g>
<g id="f601x4"><use href="#chk" x="1174.8" y="1315"/><text x="1187" y="1320.5">•психоз (F22.0)</text></g>
<g id="f601x5"><use href="#chk" x="1174.8" y="1337"/><text x="1187" y="1342">•шизофрения (F20.0)</text></g>
<g id="f601x6"><use href="#chk" x="1174.8" y="1358.5"/><text x="1187" y="1363.6">•состояние (F22.0)</text></g>
<g id="f601x7"><use href="#chk" x="1029.3" y="1380"/><text x="1041" y="1385.7">•синдром Аспергера (F84.5)</text></g>
<g id="f601x8"><use href="#chk" x="1029.3" y="1401"/><text x="1041" y="1407">•бредовое расстройство (F22.0)</text></g>
<g id="f601x9"><use href="#chk" x="1029.3" y="1423"/><text x="1041" y="1428.8">•шизоидное расстройство в детском возрасте (F84.5)</text></g>
<g id="f601x10"><use href="#chk" x="1029.3" y="1444"/><text x="1041" y="1450.6">•шизофрения (F20.-)</text></g>
<g id="f601x11"><use href="#chk" x="1029.3" y="1466"/><text x="1041" y="1472.3">•шизотипическое расстройство F21</text></g>
<g id="f602"><text class="t" x="719.5" y="1648.7">F60.2</text><text class="t r" x="719.5" y="1665.3">Диссоциальное</text><text class="t" x="719.5" y="1681.5">расстройство</text><text class="t" x="719.5" y="1697.7">личности</text></g>
<g id="f602q"><text x="853" y="1533.6">Что?</text></g>
<g id="f602r"><text x="897.6" y="1510">Расстройство личности,</text><text x="897.6" y="1523.7">характеризующееся</text></g>
<g id="f602a"><text x="1053" y="1513.9">пренебрежением к социальным обязанностям</text></g>
<g id="f602b"><text x="1053" y="1532">и черствым равнодушием к окружающим.</text></g>
<g id="f602k"><text x="853" y="1655.8">Как?</text></g>
<g id="f602n"><text x="897.6" y="1560.5">Наблюдается значительное</text><text x="897.6" y="1574.4">несоответствие между</text></g>
<g id="f602n1"><text x="1071.5" y="1564.9">поведением больного</text></g>
<g id="f602n2"><text x="1071.5" y="1583">и основными социальными нормами</text></g>
<g id="f602o"><text x="897.6" y="1604.8">Поведение с трудом поддается изменению на</text><text x="897.6" y="1618">основе опыта,</text></g>
<g id="f602o1"><text x="1173" y="1614.7">включая наказание.</text></g>
<g id="f602p"><text x="897.6" y="1689">Больные</text></g>
<g id="f602p1"><text x="965.3" y="1644.7">плохо переносят неудачи</text></g>
<g id="f602p2"><text x="965.3" y="1666.5">и легко поддаются агрессии,</text></g>
<g id="f602p3"><text x="1145.6" y="1663">включая насилие.</text></g>
<g id="f602p4"><text x="965.3" y="1713">склонны</text></g>
<g id="f602p5"><text x="1036.7" y="1693">обвинять других</text></g>
<g id="f602p6"><text x="1036.7" y="1715">или давать правдоподобные</text><text x="1036.7" y="1728.6">объяснения своему поведению,</text></g>
<g id="f602p7"><text x="1232.3" y="1711.6">приводящему их к</text><text x="1232.3" y="1725">конфликту с обществом.</text></g>
<g id="f602l"><text x="853" y="1788">Личность</text><text x="853" y="1801.3">(расстройство):</text></g>
<g id="f602l1"><use href="#chk" x="969" y="1752.3"/><text x="981" y="1758">•аморальная</text></g>
<g id="f602l2"><use href="#chk" x="969" y="1774"/><text x="981" y="1779.6">•антисоциальная</text></g>
<g id="f602l3"><use href="#chk" x="969" y="1795.8"/><text x="981" y="1801.3">•асоциальная</text></g>
<g id="f602l4"><use href="#chk" x="969" y="1817"/><text x="981" y="1823">•психопатическая</text></g>
<g id="f602l5"><use href="#chk" x="969" y="1839"/><text x="981" y="1844.8">•социопатическая</text></g>
<g id="f602x"><text x="852.7" y="1875.7">Исключены:</text></g>
<g id="f602x1"><text x="941" y="1866">•расстройства поведения (F91.-)</text></g>
<g id="f602x2"><text x="941" y="1884.3">•эмоционально неустойчивое расстройство личности (F60.3)</text></g>
</svg>
